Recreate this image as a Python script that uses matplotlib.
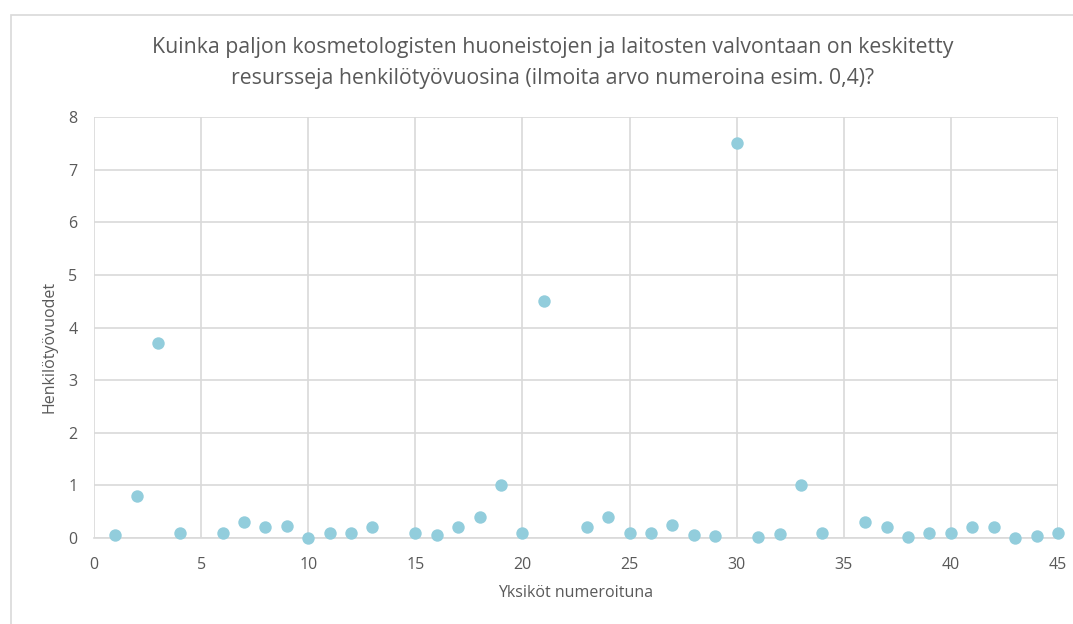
import matplotlib.pyplot as plt
from matplotlib.patches import Rectangle

# unit number -> person-years (units 5, 14, 22, 35 have no value)
units = [1, 2, 3, 4, 6, 7, 8, 9, 10, 11, 12, 13, 15, 16, 17, 18, 19, 20,
         21, 23, 24, 25, 26, 27, 28, 29, 30, 31, 32, 33, 34, 36, 37, 38,
         39, 40, 41, 42, 43, 44, 45]
person_years = [0.05, 0.8, 3.7, 0.1, 0.1, 0.3, 0.2, 0.22, 0.0, 0.1, 0.1, 0.2,
                0.1, 0.06, 0.2, 0.4, 1.0, 0.1, 4.5, 0.2, 0.4, 0.1, 0.1, 0.25,
                0.06, 0.03, 7.5, 0.01, 0.07, 1.0, 0.1, 0.3, 0.2, 0.01, 0.1,
                0.1, 0.2, 0.2, 0.0, 0.03, 0.1]

title = ('Kuinka paljon kosmetologisten huoneistojen ja laitosten valvontaan on keskitetty\n'
         'resursseja henkilötyövuosina (ilmoita arvo numeroina esim. 0,4)?')

plt.rcParams['font.family'] = ['Open Sans', 'DejaVu Sans']
text_color = '#595959'
grid_color = '#D9D9D9'

W, H = 1073, 624
fig = plt.figure(figsize=(W / 100, H / 100), dpi=100)
ax = fig.add_axes([94 / W, 1 - 538 / H, (1058 - 94) / W, (538 - 117) / H])

# chart border
fig.patches.append(Rectangle((11 / W, -0.01), 1.0, 1 - 15 / H + 0.01,
                             transform=fig.transFigure, fill=False,
                             edgecolor='#D9D9D9', linewidth=1.2))

ax.scatter(units, person_years, s=80, color='#92CDDC', zorder=3,
           clip_on=False, linewidths=0)

ax.set_xlim(0, 45)
ax.set_ylim(0, 8)
ax.set_xticks(range(0, 46, 5))
ax.set_yticks(range(0, 9))
ax.grid(True, color=grid_color, linewidth=1.2)
ax.set_axisbelow(True)
for side in ['top', 'right', 'left']:
    ax.spines[side].set_visible(False)
ax.spines['bottom'].set_color(grid_color)
ax.spines['bottom'].set_linewidth(1.2)
ax.tick_params(axis='x', pad=14)
ax.tick_params(axis='y', pad=12)
ax.tick_params(length=0, labelsize=11.5, colors=text_color)

ax.set_xlabel('Yksiköt numeroituna', fontsize=11.5, color=text_color, labelpad=8)
ax.set_ylabel('Henkilötyövuodet', fontsize=11.5, color=text_color)
ax.yaxis.set_label_coords(-0.038, 0.454)
fig.text(553 / W, 1 - 63 / H, title, ha='center', va='center', fontsize=15.3,
         color=text_color, linespacing=1.6)

fig.savefig('out.png', dpi=100)
